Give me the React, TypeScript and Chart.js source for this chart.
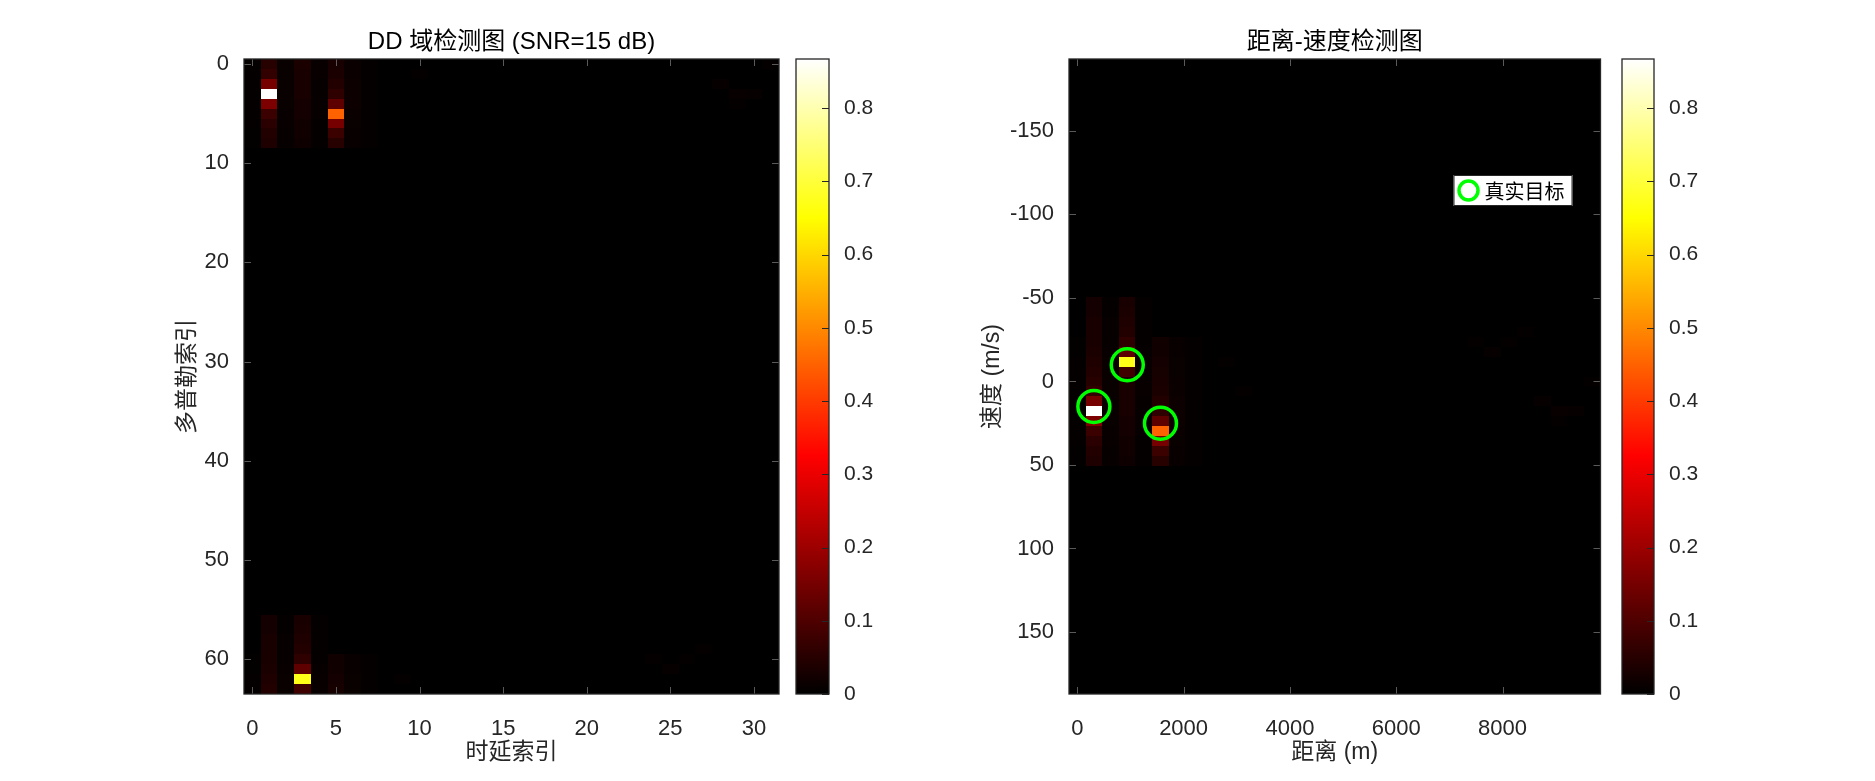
import React, { useEffect, useRef } from "react";
import { Chart, registerables } from "chart.js";

Chart.register(...registerables);

// ---------------- data ----------------
const DELAY_TICKS = [0, 5, 10, 15, 20, 25, 30];
const DOPPLER_TICKS = [0, 10, 20, 30, 40, 50, 60];
const RANGE_TICKS = [0, 2000, 4000, 6000, 8000];
const VELOCITY_TICKS = [-150, -100, -50, 0, 50, 100, 150];
const COLORBAR_TICKS = [0, 0.1, 0.2, 0.3, 0.4, 0.5, 0.6, 0.7, 0.8];

const N_DELAY = 32;
const N_DOPPLER = 64;
const RANGE_BIN_M = 312.5;
const VELOCITY_BIN_MS = 5.94;
const COLOR_MAX = 0.867;

// Doppler rows (wrapped around 0) covered by the column profiles below
const PROFILE_ROWS = [56, 57, 58, 59, 60, 61, 62, 63, 0, 1, 2, 3, 4, 5, 6, 7, 8];
const DELAY_0 = [0, 0, 0, 0, 0.004, 0.004, 0.005, 0.005, 0.005, 0.005, 0.006, 0.006, 0.006, 0.005, 0.005, 0.004, 0.004];
const DELAY_1 = [0.025, 0.025, 0.03, 0.03, 0.03, 0.035, 0.04, 0.045, 0.05, 0.065, 0.15, 0.867, 0.16, 0.075, 0.055, 0.045, 0.04];
const DELAY_2 = [0.006, 0.006, 0.008, 0.008, 0.008, 0.01, 0.012, 0.012, 0.012, 0.012, 0.012, 0.012, 0.012, 0.01, 0.01, 0.008, 0.008];
const DELAY_3 = [0.03, 0.035, 0.04, 0.045, 0.06, 0.12, 0.67, 0.08, 0.035, 0.03, 0.03, 0.03, 0.025, 0.025, 0.02, 0.02, 0.018];
const DELAY_4 = [0.005, 0.005, 0.006, 0.006, 0.007, 0.008, 0.01, 0.01, 0.01, 0.01, 0.009, 0.009, 0.008, 0.008, 0.007, 0.006, 0.006];
const DELAY_5 = [0, 0, 0, 0, 0.02, 0.022, 0.025, 0.028, 0.03, 0.035, 0.045, 0.06, 0.12, 0.45, 0.15, 0.075, 0.05];
const DELAY_6 = [0, 0, 0, 0, 0.01, 0.01, 0.012, 0.012, 0.014, 0.014, 0.015, 0.015, 0.015, 0.014, 0.012, 0.01, 0.01];
const DELAY_7 = [0, 0, 0, 0, 0.005, 0.005, 0.006, 0.006, 0.006, 0.006, 0.007, 0.007, 0.007, 0.006, 0.006, 0.005, 0.005];
const COLUMN_PROFILES: [number, number[]][] = [
  [0, DELAY_0], [1, DELAY_1], [2, DELAY_2], [3, DELAY_3],
  [4, DELAY_4], [5, DELAY_5], [6, DELAY_6], [7, DELAY_7],
];
// faint scattered residue [delay, doppler, value]
const NOISE_CELLS: [number, number, number][] = [
  [28, 2, 0.008], [29, 3, 0.01], [30, 3, 0.008], [29, 4, 0.007],
  [24, 60, 0.007], [25, 61, 0.008], [26, 60, 0.007], [27, 59, 0.006],
  [9, 62, 0.005], [10, 1, 0.005], [31, 0, 0.006],
];

const TARGET_RANGE = [312, 940, 1565];
const TARGET_VELOCITY = [15, -10, 25];

// ---------------- styling ----------------
const TICK_FONT = "'Liberation Sans', Arial, Helvetica, sans-serif";
const LABEL_FONT = "'Liberation Sans', 'Noto Sans CJK SC', sans-serif";
const CJK_FONT = "'Noto Sans CJK SC', sans-serif";
const AXIS_COLOR = "#262626";
const INNER_TICK_COLOR = "#5a5a5a";
const H = 781;

type Cell = { delay: number; doppler: number; value: number };
const CELLS: Cell[] = [];
COLUMN_PROFILES.forEach(([delay, vals]) =>
  vals.forEach((v, i) => {
    if (v > 0) CELLS.push({ delay, doppler: PROFILE_ROWS[i], value: v });
  })
);
NOISE_CELLS.forEach(([delay, doppler, value]) => CELLS.push({ delay, doppler, value }));

function hot(v: number): string {
  const t = Math.max(0, Math.min(1, v / COLOR_MAX));
  const r = Math.min(1, t / 0.375);
  const g = Math.max(0, Math.min(1, (t - 0.375) / 0.375));
  const b = Math.max(0, Math.min(1, (t - 0.75) / 0.25));
  return `rgb(${Math.round(r * 255)},${Math.round(g * 255)},${Math.round(b * 255)})`;
}

type Rect = { cx: number; cy: number; hw: number; hh: number; value: number };

function heatmapPlugin(rects: Rect[]) {
  return {
    id: "heatmap",
    beforeDatasetsDraw(chart: any) {
      const { ctx, chartArea, scales } = chart;
      const xs = scales.x, ys = scales.y;
      ctx.save();
      ctx.fillStyle = hot(0);
      ctx.fillRect(chartArea.left, chartArea.top, chartArea.right - chartArea.left, chartArea.bottom - chartArea.top);
      rects.forEach((r) => {
        const x0 = Math.round(xs.getPixelForValue(r.cx - r.hw));
        const x1 = Math.round(xs.getPixelForValue(r.cx + r.hw));
        const ya = Math.round(ys.getPixelForValue(r.cy - r.hh));
        const yb = Math.round(ys.getPixelForValue(r.cy + r.hh));
        ctx.fillStyle = hot(r.value);
        ctx.fillRect(Math.min(x0, x1), Math.min(ya, yb), Math.abs(x1 - x0), Math.abs(yb - ya));
      });
      ctx.restore();
    },
  };
}

const framePlugin = {
  id: "frame",
  afterDatasetsDraw(chart: any) {
    const { ctx, chartArea, scales } = chart;
    const { left, right, top, bottom } = chartArea;
    const L = 7;
    ctx.save();
    ctx.strokeStyle = INNER_TICK_COLOR;
    ctx.lineWidth = 1;
    ctx.beginPath();
    scales.x.ticks.forEach((t: any) => {
      const px = Math.round(scales.x.getPixelForValue(t.value)) + 0.5;
      ctx.moveTo(px, bottom); ctx.lineTo(px, bottom - L);
      ctx.moveTo(px, top); ctx.lineTo(px, top + L);
    });
    scales.y.ticks.forEach((t: any) => {
      const py = Math.round(scales.y.getPixelForValue(t.value)) + 0.5;
      ctx.moveTo(left, py); ctx.lineTo(left + L, py);
      ctx.moveTo(right, py); ctx.lineTo(right - L, py);
    });
    ctx.stroke();
    ctx.strokeStyle = AXIS_COLOR;
    ctx.lineWidth = 1.3;
    ctx.strokeRect(left, top, right - left, bottom - top);
    ctx.restore();
  },
};

function labelsPlugin(title: string, xlabel: string, ylabel: string, ylabelGap: number) {
  return {
    id: "labels",
    afterDraw(chart: any) {
      const { ctx, chartArea } = chart;
      const cx = (chartArea.left + chartArea.right) / 2;
      const cy = (chartArea.top + chartArea.bottom) / 2;
      ctx.save();
      ctx.textAlign = "center";
      ctx.textBaseline = "middle";
      ctx.fillStyle = "#000";
      ctx.font = `24px ${LABEL_FONT}`;
      ctx.fillText(title, cx, chartArea.top - 17);
      ctx.fillStyle = AXIS_COLOR;
      ctx.font = `23px ${LABEL_FONT}`;
      ctx.fillText(xlabel, cx, chartArea.bottom + 59);
      ctx.translate(chartArea.left - ylabelGap, cy);
      ctx.rotate(-Math.PI / 2);
      ctx.fillText(ylabel, 0, 0);
      ctx.restore();
    },
  };
}

const legendPlugin = {
  id: "innerLegend",
  afterDraw(chart: any) {
    const ds = chart.data.datasets[0];
    const { ctx, chartArea } = chart;
    const bx = chartArea.right - 147, by = chartArea.top + 116, bw = 119, bh = 31;
    ctx.save();
    ctx.fillStyle = "#fff";
    ctx.fillRect(bx, by, bw, bh);
    ctx.strokeStyle = AXIS_COLOR;
    ctx.lineWidth = 1;
    ctx.strokeRect(bx + 0.5, by + 0.5, bw - 1, bh - 1);
    ctx.beginPath();
    ctx.arc(bx + 15, by + bh / 2, 9.5, 0, Math.PI * 2);
    ctx.strokeStyle = ds.borderColor;
    ctx.lineWidth = 3.5;
    ctx.stroke();
    ctx.fillStyle = "#000";
    ctx.font = `20px ${CJK_FONT}`;
    ctx.textAlign = "left";
    ctx.textBaseline = "middle";
    ctx.fillText(ds.label, bx + 31, by + bh / 2 + 1);
    ctx.restore();
  },
};

function colorbarPlugin() {
  return {
    id: "colorbar",
    afterDraw(chart: any) {
      const { ctx, chartArea, scales } = chart;
      const { left, right, top, bottom } = chartArea;
      ctx.save();
      const g = ctx.createLinearGradient(0, bottom, 0, top);
      g.addColorStop(0, "rgb(0,0,0)");
      g.addColorStop(0.375, "rgb(255,0,0)");
      g.addColorStop(0.75, "rgb(255,255,0)");
      g.addColorStop(1, "rgb(255,255,255)");
      ctx.fillStyle = g;
      ctx.fillRect(left, top, right - left, bottom - top);
      ctx.strokeStyle = AXIS_COLOR;
      ctx.lineWidth = 1;
      ctx.beginPath();
      scales.y.ticks.forEach((t: any) => {
        const py = Math.round(scales.y.getPixelForValue(t.value)) + 0.5;
        ctx.moveTo(right, py); ctx.lineTo(right - 7, py);
      });
      ctx.stroke();
      ctx.lineWidth = 1.3;
      ctx.strokeRect(left, top, right - left, bottom - top);
      ctx.restore();
    },
  };
}

function fixedTicks(values: number[]) {
  return (scale: any) => {
    scale.ticks = values.map((v) => ({ value: v }));
  };
}

const tickStyle = (padding: number, size = 22) => ({
  color: AXIS_COLOR,
  font: { family: TICK_FONT, size },
  padding,
  autoSkip: false,
  maxRotation: 0,
  callback: (v: any) => String(v),
});

function mainConfig(p: {
  xmin: number; xmax: number; xticks: number[];
  ymin: number; ymax: number; yticks: number[];
  yAxisW: number; padRight: number;
  rects: Rect[]; datasets: any[]; extra: any[];
  title: string; xlabel: string; ylabel: string; ylabelGap: number;
}): any {
  return {
    type: "scatter",
    data: { datasets: p.datasets },
    options: {
      animation: false,
      responsive: false,
      layout: { padding: { left: 0, top: 59, right: p.padRight, bottom: 0 } },
      plugins: { legend: { display: false }, tooltip: { enabled: false }, title: { display: false } },
      scales: {
        x: {
          type: "linear", min: p.xmin, max: p.xmax,
          afterBuildTicks: fixedTicks(p.xticks),
          afterFit: (s: any) => { s.height = 87; },
          grid: { display: false },
          border: { display: false },
          ticks: tickStyle(14),
        },
        y: {
          type: "linear", reverse: true, min: p.ymin, max: p.ymax,
          afterBuildTicks: fixedTicks(p.yticks),
          afterFit: (s: any) => { s.width = p.yAxisW; },
          grid: { display: false },
          border: { display: false },
          ticks: tickStyle(7),
        },
      },
    },
    plugins: [heatmapPlugin(p.rects), framePlugin, ...p.extra, labelsPlugin(p.title, p.xlabel, p.ylabel, p.ylabelGap)],
  };
}

function colorbarConfig(padLeft: number, axisW: number): any {
  return {
    type: "scatter",
    data: { datasets: [] },
    options: {
      animation: false,
      responsive: false,
      layout: { padding: { left: padLeft, top: 59, right: 0, bottom: 87 } },
      plugins: { legend: { display: false }, tooltip: { enabled: false } },
      scales: {
        x: { type: "linear", display: false, min: 0, max: 1 },
        y: {
          type: "linear", position: "right", min: 0, max: COLOR_MAX,
          afterBuildTicks: fixedTicks(COLORBAR_TICKS),
          afterFit: (s: any) => { s.width = axisW; },
          grid: { display: false },
          border: { display: false },
          ticks: tickStyle(7, 21),
        },
      },
    },
    plugins: [colorbarPlugin()],
  };
}

function ChartBox({ left, width, make }: { left: number; width: number; make: () => any }) {
  const ref = useRef<HTMLCanvasElement>(null);
  useEffect(() => {
    const chart = new Chart(ref.current as HTMLCanvasElement, make());
    return () => chart.destroy();
  }, []);
  return (
    <canvas
      ref={ref}
      width={width}
      height={H}
      style={{ position: "absolute", left, top: 0, width, height: H, display: "block" }}
    />
  );
}

const ddRects: Rect[] = CELLS.map((c) => ({ cx: c.delay, cy: c.doppler, hw: 0.5, hh: 0.5, value: c.value }));
const rvRects: Rect[] = CELLS.map((c) => ({
  cx: c.delay * RANGE_BIN_M,
  cy: (((c.doppler + N_DOPPLER / 2) % N_DOPPLER) - N_DOPPLER / 2) * VELOCITY_BIN_MS,
  hw: RANGE_BIN_M / 2,
  hh: VELOCITY_BIN_MS / 2,
  value: c.value,
}));

export default function App() {
  return (
    <div style={{ position: "absolute", left: 0, top: 0, width: 1875, height: H, background: "#fff", overflow: "hidden" }}>
      <ChartBox
        left={100}
        width={700}
        make={() =>
          mainConfig({
            xmin: -0.5, xmax: N_DELAY - 0.5, xticks: DELAY_TICKS,
            ymin: -0.5, ymax: N_DOPPLER - 0.5, yticks: DOPPLER_TICKS,
            yAxisW: 144, padRight: 21,
            rects: ddRects, datasets: [], extra: [],
            title: "DD 域检测图 (SNR=15 dB)", xlabel: "时延索引", ylabel: "多普勒索引", ylabelGap: 56,
          })
        }
      />
      <ChartBox left={790} width={90} make={() => colorbarConfig(6, 51)} />
      <ChartBox
        left={900}
        width={720}
        make={() =>
          mainConfig({
            xmin: -RANGE_BIN_M / 2, xmax: (N_DELAY - 0.5) * RANGE_BIN_M, xticks: RANGE_TICKS,
            ymin: -(N_DOPPLER / 2 + 0.5) * VELOCITY_BIN_MS, ymax: (N_DOPPLER / 2 - 0.5) * VELOCITY_BIN_MS, yticks: VELOCITY_TICKS,
            yAxisW: 169, padRight: 16,
            rects: rvRects,
            datasets: [
              {
                label: "真实目标",
                data: TARGET_RANGE.map((x, i) => ({ x, y: TARGET_VELOCITY[i] })),
                pointRadius: 16,
                pointHoverRadius: 16,
                pointBorderWidth: 3.5,
                borderColor: "#00ff00",
                backgroundColor: "rgba(0,0,0,0)",
                showLine: false,
              },
            ],
            extra: [legendPlugin],
            title: "距离-速度检测图", xlabel: "距离 (m)", ylabel: "速度 (m/s)", ylabelGap: 76,
          })
        }
      />
      <ChartBox left={1615} width={100} make={() => colorbarConfig(7, 61)} />
    </div>
  );
}
